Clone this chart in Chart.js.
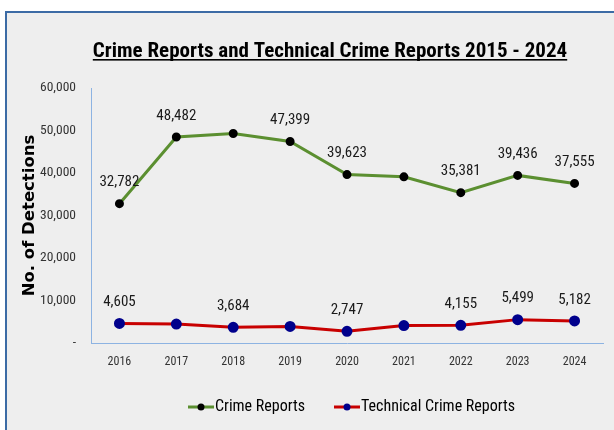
<!DOCTYPE html>
<html>
<head>
<meta charset="utf-8">
<script src="https://cdn.jsdelivr.net/npm/chart.js@4.4.1/dist/chart.umd.min.js"></script>
<style>
  html, body { margin: 0; padding: 0; background: #ffffff; }
  #frame {
    position: absolute; left: 5px; top: 11px; width: 620px; height: 430px;
    background: #eeeeee; border-left: 2px solid #3c6ba5; border-top: 2px solid #3c6ba5;
  }
  #wrap { position: absolute; left: 0; top: 0; width: 614px; height: 430px; }
</style>
</head>
<body>
<div id="frame"></div>
<div id="wrap"><canvas id="crime"></canvas></div>
<script>
  const years = ['2016', '2017', '2018', '2019', '2020', '2021', '2022', '2023', '2024'];
  const crimeReports = [32782, 48482, 49300, 47399, 39623, 39100, 35381, 39436, 37555];
  const technicalReports = [4605, 4450, 3684, 3900, 2747, 4100, 4155, 5499, 5182];
  // which points carry a value label in the original
  const crimeLabelled = [1, 1, 0, 1, 1, 0, 1, 1, 1];
  const technicalLabelled = [1, 0, 1, 0, 1, 0, 1, 1, 1];
  const yTicks = [0, 10000, 20000, 30000, 40000, 50000, 60000];

  const narrow = "'Roboto Condensed', 'Liberation Sans', sans-serif";
  const GREEN = '#5b8f30', RED = '#c80000', NAVY = '#00008c';

  // line + dot pictures for the legend, drawn on the right 28px of the image
  function legendSymbol(lineColor, dotColor) {
    const c = document.createElement('canvas');
    c.width = 44; c.height = 10;
    const g = c.getContext('2d');
    g.strokeStyle = lineColor; g.lineWidth = 3;
    g.beginPath(); g.moveTo(17, 5); g.lineTo(43, 5); g.stroke();
    g.fillStyle = dotColor;
    g.beginPath(); g.arc(30, 5, 3.5, 0, Math.PI * 2); g.fill();
    return c;
  }
  const symbols = [legendSymbol(GREEN, '#000000'), legendSymbol(RED, NAVY)];

  const valueLabels = {
    id: 'valueLabels',
    afterDatasetsDraw(chart) {
      const ctx = chart.ctx;
      ctx.save();
      ctx.font = '15px ' + narrow;
      ctx.fillStyle = '#1a1a1a';
      ctx.textAlign = 'center';
      ctx.textBaseline = 'middle';
      chart.data.datasets.forEach((ds, di) => {
        chart.getDatasetMeta(di).data.forEach((pt, i) => {
          if (!ds.labelled[i]) return;
          ctx.fillText(ds.data[i].toLocaleString('en-US'), pt.x, pt.y - 21);
        });
      });
      ctx.restore();
    }
  };

  const underlinedTitle = {
    id: 'underlinedTitle',
    afterDraw(chart) {
      const ctx = chart.ctx;
      const text = 'Crime Reports and Technical Crime Reports 2015 - 2024';
      ctx.save();
      ctx.font = 'bold 21px ' + narrow;
      ctx.fillStyle = '#000000';
      ctx.textAlign = 'center';
      ctx.textBaseline = 'alphabetic';
      const cx = 330;
      ctx.fillText(text, cx, 57);
      const w = ctx.measureText(text).width;
      ctx.fillRect(cx - w / 2, 59, w, 1.6);
      ctx.restore();
    }
  };

  // the legend in the original sits under the middle of the plot, not the canvas
  const legendShift = {
    id: 'legendShift',
    afterLayout(chart) {
      const lg = chart.legend;
      const area = chart.chartArea;
      const d = (area.left + area.right) / 2 - (lg.left + lg.right) / 2;
      lg.left += d;
      lg.right += d;
    }
  };

  new Chart(document.getElementById('crime'), {
    type: 'line',
    data: {
      labels: years,
      datasets: [{
        label: 'Crime Reports',
        data: crimeReports,
        labelled: crimeLabelled,
        borderColor: GREEN,
        borderWidth: 3,
        pointBackgroundColor: '#000000',
        pointBorderColor: '#000000',
        pointRadius: 3,
        tension: 0
      }, {
        label: 'Technical Crime Reports',
        data: technicalReports,
        labelled: technicalLabelled,
        borderColor: RED,
        borderWidth: 3,
        pointBackgroundColor: NAVY,
        pointBorderColor: NAVY,
        pointRadius: 4,
        tension: 0
      }]
    },
    options: {
      responsive: true,
      maintainAspectRatio: false,
      animation: false,
      layout: { padding: { top: 88, right: 11, bottom: 5, left: 0 } },
      scales: {
        x: {
          offset: true,
          grid: { display: false, drawTicks: false },
          border: { display: true, color: '#8db3e2', width: 1 },
          ticks: { padding: 12, color: '#333333', font: { family: narrow, size: 12 } },
          afterFit: s => { s.height = 36; }
        },
        y: {
          min: 0,
          max: 60000,
          afterBuildTicks: s => { s.ticks = yTicks.map(v => ({ value: v })); },
          grid: { display: false, drawTicks: false },
          border: { display: true, color: '#8db3e2', width: 1 },
          ticks: {
            padding: 15,
            color: '#333333',
            font: { family: narrow, size: 13.5 },
            callback: v => v === 0 ? '-' : v.toLocaleString('en-US')
          },
          title: {
            display: true,
            text: 'No. of Detections',
            color: '#000000',
            font: { family: "'DejaVu Sans', Verdana, sans-serif", size: 16.5, weight: 'bold' },
            padding: { top: 20, bottom: 0 }
          },
          afterFit: s => { s.width = 91; }
        }
      },
      plugins: {
        title: { display: false },
        tooltip: { enabled: false },
        legend: {
          position: 'bottom',
          labels: {
            usePointStyle: true,
            pointStyleWidth: 28,
            padding: 20,
            color: '#000000',
            font: { family: narrow, size: 16 },
            generateLabels(chart) {
              const items = Chart.defaults.plugins.legend.labels.generateLabels(chart);
              items.forEach((it, i) => { it.pointStyle = symbols[i]; });
              return items;
            }
          }
        }
      }
    },
    plugins: [valueLabels, underlinedTitle, legendShift]
  });
</script>
</body>
</html>
